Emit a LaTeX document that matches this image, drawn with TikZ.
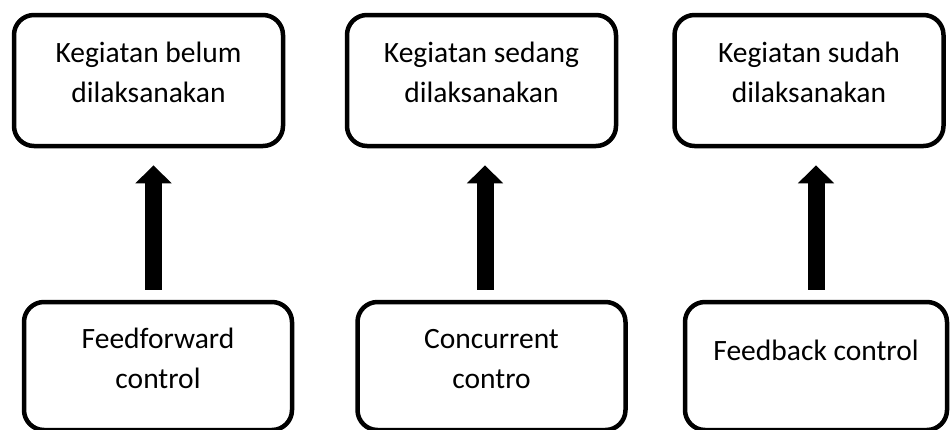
\documentclass[tikz,border=0pt]{standalone}
\usepackage{fontspec}
\setmainfont{Carlito}
\usetikzlibrary{arrows.meta}

\begin{document}
\begin{tikzpicture}[x=1pt,y=-1pt]
        \tikzstyle{boxnode} = [line width=4.5pt, draw=black, rectangle, rounded corners=20pt, inner sep=0pt, align=center, font=\fontsize{29.5pt}{40pt}\selectfont]
        \tikzstyle{actnode} = [boxnode, minimum width=269pt, minimum height=131pt, text height=60pt, text depth=17pt]
        \tikzstyle{ctrlnode} = [boxnode, minimum width=268pt, minimum height=128pt, text height=61pt, text depth=17pt]
        \tikzstyle{uparrow} = [line width=17pt, -{Triangle[width=35pt,length=18pt]}, shorten >=17pt, shorten <=10pt]

        \useasboundingbox (0,0) rectangle (950,429);

        % kegiatan
        \node[actnode] (keg1) at (148.5,80.5) {Kegiatan belum\\dilaksanakan};
        \node[actnode] (keg2) at (481.5,80.5) {Kegiatan sedang\\dilaksanakan};
        \node[actnode] (keg3) at (809,80.5) {Kegiatan sudah\\dilaksanakan};

        % control
        \node[ctrlnode] (ctl1) at (158,366) {Feedforward\\control};
        \node[ctrlnode] (ctl2) at (491.5,366) {Concurrent\\contro};
        \node[ctrlnode, minimum width=262pt, text height=20pt, text depth=32pt] (ctl3) at (816,366) {Feedback control};

        \coordinate (ar1) at (153.5,0);
        \coordinate (ar2) at (485,0);
        \coordinate (ar3) at (816,0);

        \draw[uparrow] (ar1 |- ctl1.north) -- (ar1 |- keg1.south);
        \draw[uparrow] (ar2 |- ctl2.north) -- (ar2 |- keg2.south);
        \draw[uparrow] (ar3 |- ctl3.north) -- (ar3 |- keg3.south);
\end{tikzpicture}
\end{document}
